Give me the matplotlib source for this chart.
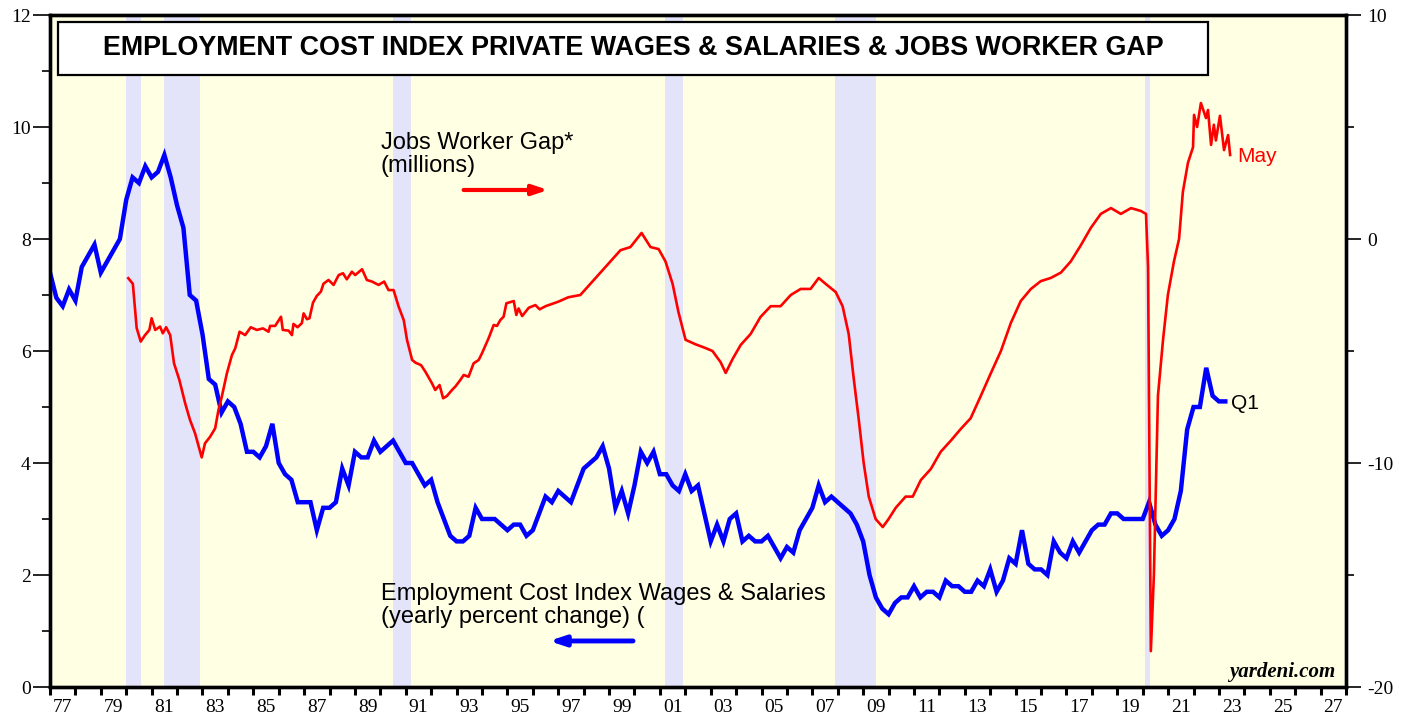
import numpy as np
import matplotlib
matplotlib.use('Agg')
import matplotlib.pyplot as plt
from matplotlib.patches import Rectangle

# ECI private wages & salaries, yearly % change, quarterly from 1977Q1
eci_start = 1977.0
eci_wages = [7.4, 6.95, 6.8, 7.1, 6.9, 7.5, 7.7, 7.9, 7.4, 7.6, 7.8, 8.0,
             8.7, 9.1, 9.0, 9.3, 9.1, 9.2, 9.5, 9.1, 8.6, 8.2,
             7.0, 6.9, 6.3, 5.5, 5.4, 4.9,
             5.1, 5.0, 4.7, 4.2, 4.2, 4.1, 4.3, 4.7, 4.0, 3.8,
             3.7, 3.3, 3.3, 3.3, 2.8, 3.2, 3.2, 3.3, 3.9, 3.6,
             4.2, 4.1, 4.1, 4.4, 4.2, 4.3, 4.4, 4.2, 4.0, 4.0,
             3.8, 3.6, 3.7, 3.3, 3.0, 2.7, 2.6, 2.6, 2.7,
             3.2, 3.0, 3.0, 3.0, 2.9, 2.8, 2.9, 2.9, 2.7, 2.8,
             3.1, 3.4, 3.3, 3.5, 3.4, 3.3, 3.6, 3.9, 4.0, 4.1,
             4.3, 3.9, 3.2, 3.5, 3.1, 3.6, 4.2, 4.0, 4.2, 3.8,
             3.8, 3.6, 3.5, 3.8, 3.5, 3.6, 3.1, 2.6, 2.9, 2.6,
             3.0, 3.1, 2.6, 2.7, 2.6, 2.6, 2.7, 2.5, 2.3, 2.5,
             2.4, 2.8, 3.0, 3.2, 3.6, 3.3, 3.4, 3.3, 3.2, 3.1,
             2.9, 2.6, 2.0, 1.6, 1.4, 1.3, 1.5, 1.6, 1.6, 1.8,
             1.6, 1.7, 1.7, 1.6, 1.9, 1.8, 1.8, 1.7, 1.7, 1.9,
             1.8, 2.1, 1.7, 1.9, 2.3, 2.2, 2.8, 2.2, 2.1, 2.1,
             2.0, 2.6, 2.4, 2.3, 2.6, 2.4, 2.6, 2.8, 2.9, 2.9,
             3.1, 3.1, 3.0, 3.0, 3.0, 3.0, 3.3, 2.9, 2.7, 2.8,
             3.0, 3.5, 4.6, 5.0, 5.0, 5.7, 5.2, 5.1, 5.1]

# jobs worker gap (millions)
gap_year = [1980.08, 1980.26, 1980.41, 1980.57, 1980.74, 1980.91, 1981.0, 1981.14, 1981.33, 1981.44,
            1981.57, 1981.73, 1981.88, 1982.09, 1982.32, 1982.51, 1982.71, 1982.97, 1983.1, 1983.3,
            1983.5, 1983.63, 1983.76, 1983.96, 1984.16, 1984.29, 1984.46, 1984.68, 1984.9, 1985.14,
            1985.38, 1985.6, 1985.66, 1985.86, 1986.09, 1986.16, 1986.39, 1986.52, 1986.58, 1986.74,
            1986.91, 1986.98, 1987.11, 1987.21, 1987.35, 1987.5, 1987.66, 1987.76, 1987.96, 1988.16,
            1988.36, 1988.53, 1988.68, 1988.88, 1989.01, 1989.28, 1989.47, 1989.67, 1989.93, 1990.15,
            1990.32, 1990.52, 1990.72, 1990.92, 1991.05, 1991.25, 1991.38, 1991.6, 1991.77, 1992.03,
            1992.16, 1992.33, 1992.47, 1992.62, 1992.82, 1992.95, 1993.15, 1993.28, 1993.47, 1993.67,
            1993.87, 1994.0, 1994.26, 1994.46, 1994.59, 1994.72, 1994.85, 1994.96, 1995.25, 1995.35,
            1995.44, 1995.58, 1995.84, 1996.1, 1996.27, 1996.5, 1997.0, 1997.4, 1997.87, 1998.66,
            1999.06, 1999.45, 1999.84, 2000.28, 2000.63, 2000.95, 2001.22, 2001.5, 2001.73, 2002.01,
            2002.4, 2002.8, 2003.07, 2003.39, 2003.59, 2003.86, 2004.18, 2004.57, 2004.96, 2005.36,
            2005.75, 2006.15, 2006.54, 2006.93, 2007.25, 2007.52, 2007.92, 2008.19, 2008.43, 2008.63,
            2008.82, 2009.02, 2009.22, 2009.49, 2009.77, 2010.0, 2010.28, 2010.67, 2010.95, 2011.27,
            2011.66, 2012.05, 2012.45, 2012.84, 2013.23, 2013.63, 2014.02, 2014.42, 2014.81, 2015.2,
            2015.6, 2015.99, 2016.38, 2016.78, 2017.17, 2017.57, 2017.96, 2018.35, 2018.75, 2019.14,
            2019.54, 2019.93, 2020.13, 2020.21, 2020.32, 2020.44, 2020.6, 2020.8, 2020.99, 2021.23,
            2021.43, 2021.58, 2021.78, 2021.98, 2022.02, 2022.14, 2022.29, 2022.49, 2022.57, 2022.69,
            2022.8, 2022.88, 2023.04, 2023.2, 2023.36, 2023.44]
gap_value = [-1.75, -2.0, -3.97, -4.58, -4.29, -4.06, -3.54, -4.06, -3.91, -4.21,
             -3.94, -4.29, -5.55, -6.29, -7.34, -8.08, -8.68, -9.75, -9.12, -8.83,
             -8.45, -7.63, -7.04, -6.0, -5.18, -4.88, -4.14, -4.29, -3.94, -4.06,
             -3.99, -4.14, -3.88, -3.88, -3.47, -4.06, -4.09, -4.29, -3.79, -3.94,
             -3.76, -3.32, -3.58, -3.54, -2.84, -2.54, -2.35, -2.0, -1.83, -2.05,
             -1.61, -1.53, -1.8, -1.46, -1.61, -1.35, -1.83, -1.9, -2.05, -1.9,
             -2.28, -2.28, -3.02, -3.62, -4.51, -5.4, -5.52, -5.63, -5.92, -6.44,
             -6.74, -6.52, -7.11, -7.01, -6.74, -6.59, -6.29, -6.07, -6.15, -5.55,
             -5.4, -5.1, -4.43, -3.84, -3.88, -3.62, -3.47, -2.87, -2.77, -3.39,
             -3.1, -3.44, -3.07, -2.95, -3.14, -3.0, -2.8, -2.6, -2.5, -1.5,
             -1.0, -0.5, -0.36, 0.27, -0.36, -0.45, -1.0, -2.0, -3.26, -4.5,
             -4.7, -4.87, -5.0, -5.5, -5.98, -5.36, -4.73, -4.24, -3.48, -3.0,
             -3.0, -2.5, -2.23, -2.23, -1.74, -2.0, -2.37, -3.0, -4.24, -6.25,
             -8.0, -10.0, -11.5, -12.5, -12.86, -12.5, -12.0, -11.5, -11.5, -10.76,
             -10.27, -9.5, -9.0, -8.48, -8.0, -7.0, -6.0, -5.0, -3.75, -2.77,
             -2.23, -1.88, -1.74, -1.5, -1.0, -0.27, 0.5, 1.12, 1.38, 1.12,
             1.38, 1.25, 1.12, -1.25, -18.4, -15.0, -7.0, -4.5, -2.5, -1.0,
             0.0, 2.1, 3.4, 4.1, 5.54, 5.0, 6.07, 5.4, 5.76, 4.2,
             5.1, 4.4, 5.5, 3.97, 4.64, 3.75]

# recessions (start, end)
recessions = [(1980.0, 1980.58), (1981.5, 1982.9), (1990.5, 1991.2),
              (2001.2, 2001.9), (2007.9, 2009.5), (2020.1, 2020.3)]

eci_year = eci_start + 0.25 * np.arange(len(eci_wages))

fig = plt.figure(figsize=(14.13, 7.21), dpi=100)
ax = fig.add_axes([50/1413, 1-687/721, 1296/1413, 672/721])
ax.set_facecolor('#ffffe3')
for s, e in recessions:
    ax.axvspan(s, e, color='#e3e3fa', lw=0, zorder=0)

ax.plot(eci_year, eci_wages, color='#0000ff', lw=3.2, zorder=3, solid_joinstyle='miter')
ax.set_xlim(1977, 2028)
ax.set_ylim(0, 12)

ax2 = ax.twinx()
ax2.plot(gap_year, gap_value, color='#ff0000', lw=1.9, zorder=4)
ax2.set_ylim(-20, 10)

serif = 'Liberation Serif'
sans = 'Liberation Sans'

# x ticks: every year, labels at middle of odd years
ax.set_xticks(np.arange(1977, 2029))
ax.set_xticklabels([])
odd = np.arange(1977, 2028, 2)
ax.set_xticks(odd + 0.5, minor=True)
ax.set_xticklabels(['%02d' % (y % 100) for y in odd], minor=True, fontfamily=serif, fontsize=14)
ax.tick_params(axis='x', which='major', length=6, width=2.2, direction='out')
ax.tick_params(axis='x', which='minor', length=0, pad=9)

ax.set_yticks(np.arange(0, 13, 2))
ax.set_yticks(np.arange(1, 12, 2), minor=True)
ax.set_yticklabels([str(v) for v in range(0, 13, 2)], fontfamily=serif, fontsize=14)
ax.tick_params(axis='y', which='major', length=12, width=1.2, pad=2)
ax.tick_params(axis='y', which='minor', length=6, width=1.2)

ax2.set_yticks([-20, -10, 0, 10])
ax2.set_yticks([-15, -5, 5], minor=True)
ax2.set_yticklabels(['-20', '-10', '0', '10'], fontfamily=serif, fontsize=14)
ax2.tick_params(axis='y', which='major', length=11, width=1.2, pad=4)
ax2.tick_params(axis='y', which='minor', length=6, width=1.2)

for a in (ax, ax2):
    for sp in a.spines.values():
        sp.set_linewidth(2.4)
        sp.set_color('black')

# title box
box = Rectangle((0.0062, 0.9107), 0.8873, 0.0789, transform=ax2.transAxes,
                facecolor='white', edgecolor='black', lw=1.6, zorder=10)
ax2.add_patch(box)
ax2.text(0.4498, 0.9502, 'EMPLOYMENT COST INDEX PRIVATE WAGES & SALARIES & JOBS WORKER GAP',
         transform=ax2.transAxes, ha='center', va='center', fontsize=19.4,
         fontweight='bold', fontfamily=sans, zorder=11)

ax2.text(0.2554, 0.826, 'Jobs Worker Gap*\n(millions)', transform=ax2.transAxes,
         ha='left', va='top', fontsize=17, fontfamily=sans, linespacing=1.05, zorder=6)
ax2.annotate('', xy=(0.3865, 0.7396), xytext=(0.317, 0.7396), xycoords='axes fraction',
             arrowprops=dict(arrowstyle='-|>,head_length=0.9,head_width=0.3', color='#ff0000', lw=3),
             zorder=6)

ax2.text(0.2554, 0.155, 'Employment Cost Index Wages & Salaries\n(yearly percent change) (',
         transform=ax2.transAxes, ha='left', va='top', fontsize=17, fontfamily=sans,
         linespacing=1.08, zorder=6)
ax2.annotate('', xy=(0.383, 0.0685), xytext=(0.452, 0.0685), xycoords='axes fraction',
             arrowprops=dict(arrowstyle='-|>,head_length=0.9,head_width=0.3', color='#0000ff', lw=3.5),
             zorder=6)

ax2.text(0.916, 0.789, 'May', transform=ax2.transAxes, ha='left', va='center',
         fontsize=15, color='#ff0000', fontfamily=sans, zorder=6)
ax2.text(0.911, 0.4226, 'Q1', transform=ax2.transAxes, ha='left', va='center',
         fontsize=15, color='black', fontfamily=sans, zorder=6)
ax2.text(0.9915, 0.022, 'yardeni.com', transform=ax2.transAxes, ha='right', va='center',
         fontsize=15, fontweight='bold', fontstyle='italic', fontfamily=serif, zorder=6)

fig.savefig('out.png', dpi=100)
